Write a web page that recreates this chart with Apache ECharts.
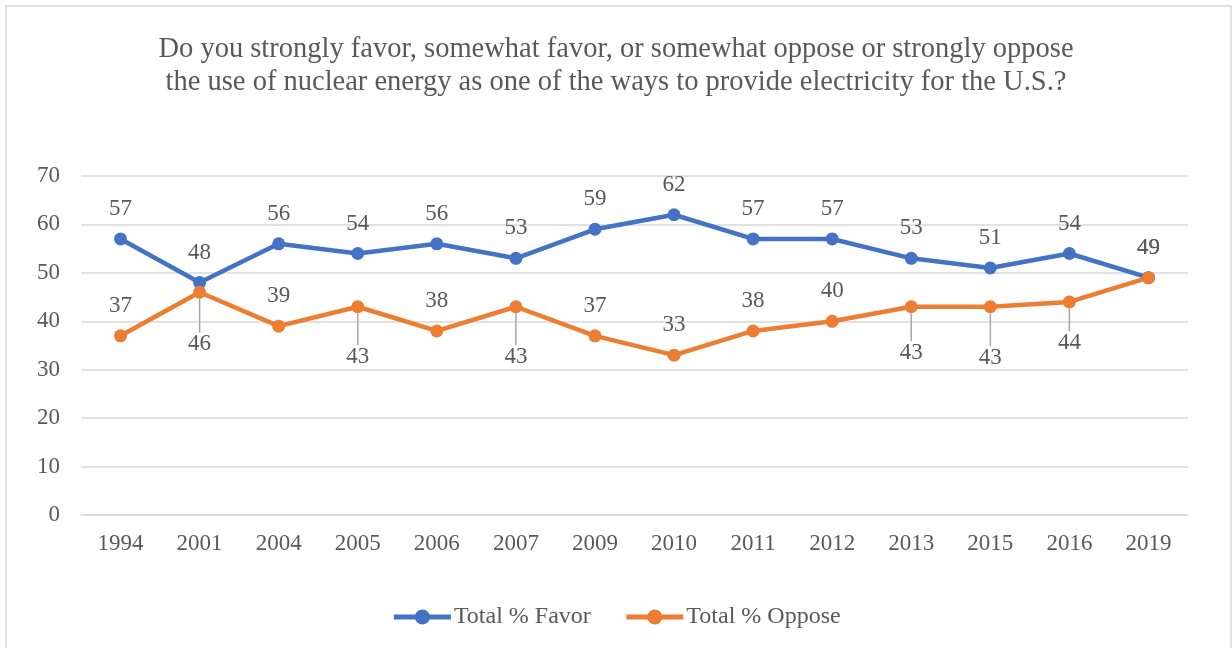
<!DOCTYPE html>
<html>
<head>
<meta charset="utf-8">
<script src="https://cdn.jsdelivr.net/npm/echarts@6/dist/echarts.min.js"></script>
<style>
html,body{margin:0;padding:0;background:#fff;}
#chart{width:1232px;height:648px;}
</style>
</head>
<body>
<div id="chart"></div>
<script>
const years = ['1994','2001','2004','2005','2006','2007','2009','2010','2011','2012','2013','2015','2016','2019'];
const favor = [57,48,56,54,56,53,59,62,57,57,53,51,54,49];
const oppose = [37,46,39,43,38,43,37,33,38,40,43,43,44,49];
const yTicks = [0,10,20,30,40,50,60,70];
const titleText = 'Do you strongly favor, somewhat favor, or somewhat oppose or strongly oppose\nthe use of nuclear energy as one of the ways to provide electricity for the U.S.?';
// which oppose labels sit below the point (with a leader line), and how far
const opposeBelowShift = {1: 52, 3: 50, 5: 50, 10: 46, 11: 51, 12: 41};

const FONT = '"Liberation Serif", "Times New Roman", serif';
const TXT = '#595959';

const chart = echarts.init(document.getElementById('chart'));

const opposeData = oppose.map((v, i) => {
  if (opposeBelowShift[i] !== undefined) {
    return {value: v, labelLine: {show: true}};
  }
  return {value: v, labelLine: {show: false}};
});

chart.setOption({
  backgroundColor: '#fff',
  animation: false,
  title: {
    text: titleText,
    left: 'center',
    top: 28,
    textStyle: {fontFamily: FONT, fontSize: 28.5, fontWeight: 'normal', color: TXT, lineHeight: 33, align: 'center'}
  },
  graphic: [{
    type: 'rect',
    shape: {x: 6, y: 6, width: 1225, height: 660},
    style: {fill: 'none', stroke: '#d9d9d9', lineWidth: 1.5},
    silent: true
  }],
  legend: {
    bottom: 14,
    left: 'center',
    itemWidth: 57,
    itemHeight: 19,
    itemGap: 33,
    textStyle: {fontFamily: FONT, fontSize: 24, color: TXT, padding: [0, 0, 0, -2]},
    lineStyle: {width: 5},
    data: ['Total % Favor', 'Total % Oppose']
  },
  grid: {left: 81, right: 44, top: 176, bottom: 133, containLabel: false},
  xAxis: {
    type: 'category',
    data: years,
    boundaryGap: true,
    axisLine: {lineStyle: {color: '#d9d9d9', width: 1.5}},
    axisTick: {show: false},
    axisLabel: {fontFamily: FONT, fontSize: 23, color: TXT, margin: 17}
  },
  yAxis: {
    type: 'value',
    min: yTicks[0],
    max: yTicks[yTicks.length - 1],
    interval: 10,
    axisLine: {show: false},
    axisTick: {show: false},
    splitLine: {lineStyle: {color: '#d9d9d9', width: 1.5}},
    axisLabel: {fontFamily: FONT, fontSize: 23, color: TXT, margin: 21}
  },
  series: [
    {
      name: 'Total % Favor',
      type: 'line',
      data: favor,
      symbol: 'circle',
      symbolSize: 13,
      itemStyle: {color: '#4472C4'},
      lineStyle: {color: '#4472C4', width: 4.5},
      label: {show: true, position: 'top', distance: 12, fontFamily: FONT, fontSize: 23, color: TXT}
    },
    {
      name: 'Total % Oppose',
      type: 'line',
      data: opposeData,
      symbol: 'circle',
      symbolSize: 13,
      itemStyle: {color: '#ED7D31'},
      lineStyle: {color: '#ED7D31', width: 4.5},
      label: {show: true, position: 'top', distance: 12, fontFamily: FONT, fontSize: 23, color: TXT},
      labelLine: {show: false, lineStyle: {color: '#a6a6a6', width: 1.5}},
      labelLayout: function (params) {
        const s = opposeBelowShift[params.dataIndex];
        if (s === undefined) return {};
        const cx = params.rect.x + params.rect.width / 2;
        const cy = params.rect.y + params.rect.height / 2;
        return {x: cx, y: cy + s, align: 'center', verticalAlign: 'middle'};
      }
    }
  ]
});
</script>
</body>
</html>
